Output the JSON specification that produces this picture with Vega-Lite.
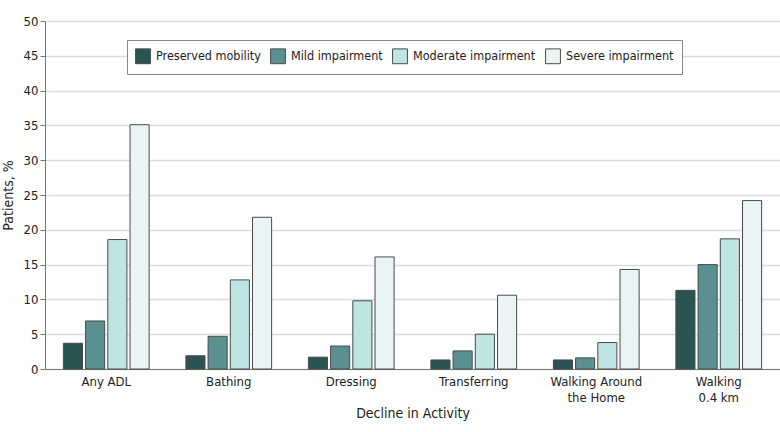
{
  "$schema": "https://vega.github.io/schema/vega-lite/v6.json",
  "width": 735,
  "height": 348,
  "autosize": {"type": "none"},
  "padding": {"left": 45, "top": 21, "right": 0, "bottom": 63},
  "background": "white",
  "config": {
    "font": "'DejaVu Sans Condensed', Roboto, sans-serif",
    "view": {"stroke": null}
  },
  "data": {
    "values": [
      {"activity": "Any ADL", "group": "Preserved mobility", "value": 3.7},
      {"activity": "Any ADL", "group": "Mild impairment", "value": 6.9},
      {"activity": "Any ADL", "group": "Moderate impairment", "value": 18.6},
      {"activity": "Any ADL", "group": "Severe impairment", "value": 35.1},
      {"activity": "Bathing", "group": "Preserved mobility", "value": 1.9},
      {"activity": "Bathing", "group": "Mild impairment", "value": 4.7},
      {"activity": "Bathing", "group": "Moderate impairment", "value": 12.8},
      {"activity": "Bathing", "group": "Severe impairment", "value": 21.8},
      {"activity": "Dressing", "group": "Preserved mobility", "value": 1.7},
      {"activity": "Dressing", "group": "Mild impairment", "value": 3.3},
      {"activity": "Dressing", "group": "Moderate impairment", "value": 9.8},
      {"activity": "Dressing", "group": "Severe impairment", "value": 16.1},
      {"activity": "Transferring", "group": "Preserved mobility", "value": 1.3},
      {"activity": "Transferring", "group": "Mild impairment", "value": 2.6},
      {"activity": "Transferring", "group": "Moderate impairment", "value": 5.0},
      {"activity": "Transferring", "group": "Severe impairment", "value": 10.6},
      {"activity": "Walking Around|the Home", "group": "Preserved mobility", "value": 1.3},
      {"activity": "Walking Around|the Home", "group": "Mild impairment", "value": 1.6},
      {"activity": "Walking Around|the Home", "group": "Moderate impairment", "value": 3.8},
      {"activity": "Walking Around|the Home", "group": "Severe impairment", "value": 14.3},
      {"activity": "Walking|0.4 km", "group": "Preserved mobility", "value": 11.3},
      {"activity": "Walking|0.4 km", "group": "Mild impairment", "value": 15.0},
      {"activity": "Walking|0.4 km", "group": "Moderate impairment", "value": 18.7},
      {"activity": "Walking|0.4 km", "group": "Severe impairment", "value": 24.2}
    ]
  },
  "mark": {"type": "bar", "stroke": "#4a4a4a", "strokeWidth": 1},
  "encoding": {
    "x": {
      "field": "activity",
      "type": "nominal",
      "sort": null,
      "scale": {"paddingInner": 0.3, "paddingOuter": 0.15},
      "axis": {
        "title": "Decline in Activity",
        "labelAngle": 0,
        "labelExpr": "split(datum.label, '|')",
        "labelFontSize": 13,
        "labelColor": "#222",
        "labelPadding": 6,
        "labelLineHeight": 16,
        "ticks": false,
        "domainColor": "#777",
        "titleFontSize": 14,
        "titleFontWeight": "normal",
        "titleColor": "#222",
        "titlePadding": 2
      }
    },
    "xOffset": {
      "field": "group",
      "type": "nominal",
      "sort": ["Preserved mobility", "Mild impairment", "Moderate impairment", "Severe impairment"],
      "scale": {"paddingInner": 0.14}
    },
    "y": {
      "field": "value",
      "type": "quantitative",
      "scale": {"domain": [0, 50]},
      "axis": {
        "title": "Patients, %",
        "values": [0, 5, 10, 15, 20, 25, 30, 35, 40, 45, 50],
        "labelFontSize": 13,
        "labelColor": "#222",
        "gridColor": "#dcdcdc",
        "gridWidth": 1.5,
        "domainColor": "#777",
        "tickColor": "#777",
        "tickSize": 5,
        "titleFontSize": 14,
        "titleFontWeight": "normal",
        "titleColor": "#222",
        "titlePadding": 8
      }
    },
    "color": {
      "field": "group",
      "type": "nominal",
      "sort": ["Preserved mobility", "Mild impairment", "Moderate impairment", "Severe impairment"],
      "scale": {
        "domain": ["Preserved mobility", "Mild impairment", "Moderate impairment", "Severe impairment"],
        "range": ["#2a5453", "#5a9190", "#bfe4e4", "#e9f4f5"]
      },
      "legend": {
        "title": null,
        "orient": "none",
        "legendX": 82,
        "legendY": 19,
        "direction": "horizontal",
        "columns": 4,
        "symbolType": "square",
        "symbolSize": 220,
        "symbolStrokeColor": "#4a4a4a",
        "symbolStrokeWidth": 1,
        "symbolOpacity": 1,
        "labelFontSize": 12.5,
        "labelColor": "#222",
        "labelOffset": 5,
        "columnPadding": 7,
        "padding": 8,
        "fillColor": "white",
        "strokeColor": "#888"
      }
    }
  }
}
